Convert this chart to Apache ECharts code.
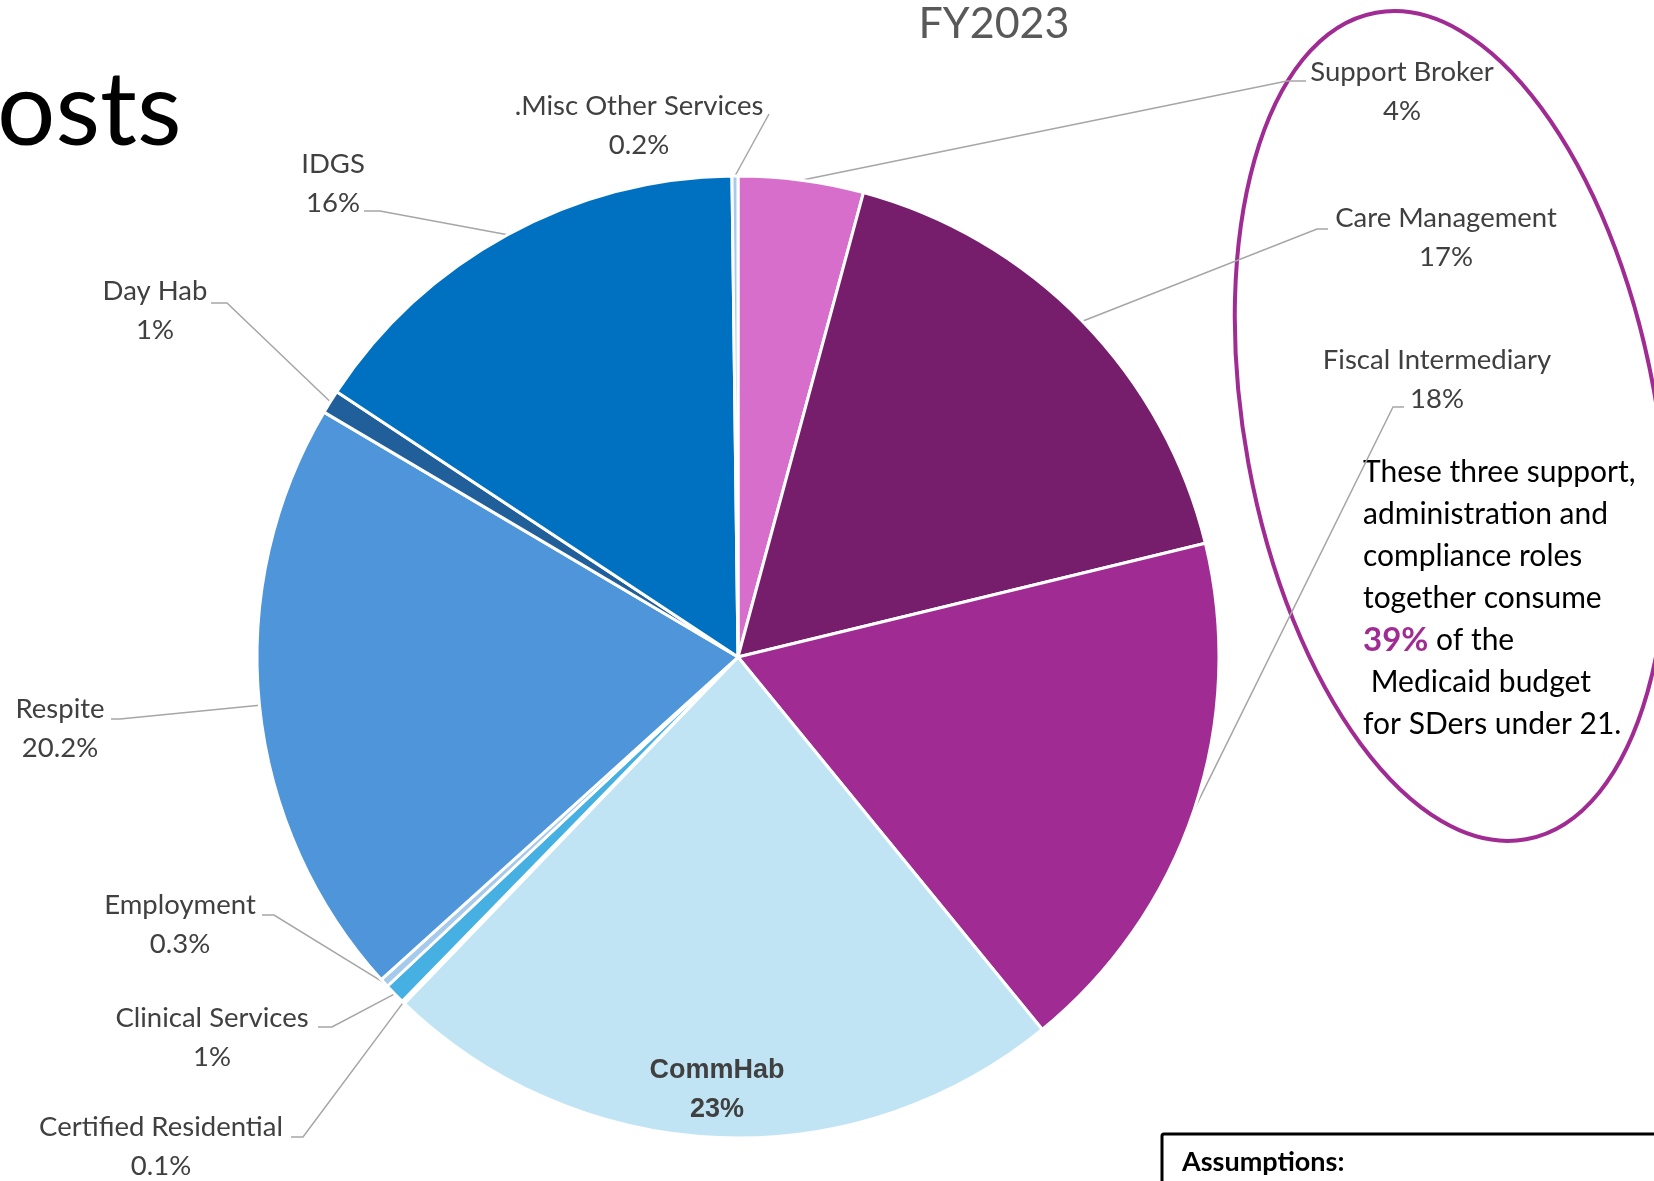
<!DOCTYPE html>
<html style="height: 100%">
   <head>
       <meta charset="utf-8">
   </head>
   <body style="height: 100%; margin: 0; background: #fff">
       <div id="container" style="width: 1654px; height: 1181px"></div>
       <script type="text/javascript" src="https://cdn.jsdelivr.net/npm/echarts@6/dist/echarts.min.js"></script>
       <script type="text/javascript">
// FY2023 service cost shares, clockwise from 12 o'clock
var categories = ['Support Broker', 'Care Management', 'Fiscal Intermediary', 'CommHab',
    'Certified Residential', 'Clinical Services', 'Employment', 'Respite', 'Day Hab', 'IDGS',
    '.Misc Other Services'];
var shares = [4.2, 17.0, 17.9, 23.1, 0.1, 0.7, 0.3, 20.2, 0.8, 15.5, 0.2];
var shareLabels = ['4%', '17%', '18%', '23%', '0.1%', '1%', '0.3%', '20.2%', '1%', '16%', '0.2%'];
var colors = ['#D86ECC', '#761E6B', '#A02B93', '#C1E4F5', '#DCEAF7', '#45B0E1', '#A6CAEC',
    '#4E95D9', '#215F9A', '#0070C0', '#A6CAEC'];

// where each label sits (centre) and where its leader line ends
var placement = [
    {at: [1402, 92], elbow: [1287, 81], end: [1306, 81]},
    {at: [1446, 238], elbow: [1317, 229], end: [1328, 229]},
    {at: [1437, 380], elbow: [1393, 407], end: [1404, 407]},
    {at: [717, 1090]},
    {at: [161, 1147], elbow: [303, 1137], end: [291, 1137]},
    {at: [212, 1038], elbow: [332, 1027], end: [318, 1027]},
    {at: [180, 925], elbow: [274, 915], end: [262, 915]},
    {at: [60, 729], elbow: [120, 719], end: [111, 719]},
    {at: [155, 311], elbow: [227, 303], end: [211, 303]},
    {at: [333, 184], elbow: [380, 211], end: [364, 211]},
    {at: [639, 126], elbow: [769, 114], end: [769, 114]}
];

var dom = document.getElementById('container');
var myChart = echarts.init(dom);

var pieData = categories.map(function (name, i) {
    var item = {name: name, value: shares[i], itemStyle: {color: colors[i]}};
    if (name === 'CommHab') {
        item.label = {position: 'inside', fontFamily: 'Liberation Sans', fontWeight: 'bold', fontSize: 27};
        item.labelLine = {show: false};
    }
    return item;
});

var option = {
    backgroundColor: '#fff',
    animation: false,
    graphic: [
        {type: 'text', left: -3, top: 60, style: {text: 'osts', fontFamily: 'Lato', fontSize: 103, fill: '#000'}},
        {type: 'text', x: 994, y: 24, style: {text: 'FY2023', fontFamily: 'Lato', fontSize: 43, fill: '#595959', align: 'center', verticalAlign: 'middle'}},
        {type: 'ellipse', x: 1451, y: 426, rotation: 0.18,
            shape: {cx: 0, cy: 0, rx: 206, ry: 420},
            style: {fill: 'none', stroke: '#A02B93', lineWidth: 4}},
        {type: 'text', x: 1363, y: 451, style: {
            text: 'These three support,\nadministration and\ncompliance roles\ntogether consume\n{p|39%} of the\n Medicaid budget\nfor SDers under 21.',
            fontFamily: 'Lato', fontSize: 30, lineHeight: 42, fill: '#000', verticalAlign: 'top',
            rich: {p: {fontFamily: 'Lato', fontSize: 33, fontWeight: 'bold', fill: '#A02B93', lineHeight: 42}}
        }},
        {type: 'rect', shape: {x: 1162, y: 1134, width: 600, height: 120, r: 2},
            style: {fill: '#fff', stroke: '#000', lineWidth: 3}},
        {type: 'text', x: 1182, y: 1162, style: {text: 'Assumptions:', fontFamily: 'Lato', fontWeight: 'bold', fontSize: 27, fill: '#000', verticalAlign: 'middle'}}
    ],
    series: [{
        type: 'pie',
        center: [738, 657],
        radius: 481,
        startAngle: 90,
        clockwise: true,
        avoidLabelOverlap: false,
        itemStyle: {borderColor: '#fff', borderWidth: 3},
        label: {
            color: '#404040',
            fontFamily: 'Lato',
            fontSize: 27.5,
            lineHeight: 39,
            align: 'center',
            formatter: function (p) {
                return p.name + '\n' + shareLabels[p.dataIndex];
            }
        },
        labelLine: {show: true, length: 20, length2: 10, lineStyle: {color: '#A6A6A6', width: 1.5}},
        labelLayout: function (params) {
            var p = placement[params.dataIndex];
            var res = {x: p.at[0], y: p.at[1], align: 'center', verticalAlign: 'middle'};
            if (p.end && params.labelLinePoints) {
                res.labelLinePoints = [params.labelLinePoints[0], p.elbow, p.end];
            }
            return res;
        },
        emphasis: {disabled: true},
        data: pieData
    }]
};

if (option && typeof option === "object") {
    myChart.setOption(option, true);
}
       </script>
   </body>
</html>
